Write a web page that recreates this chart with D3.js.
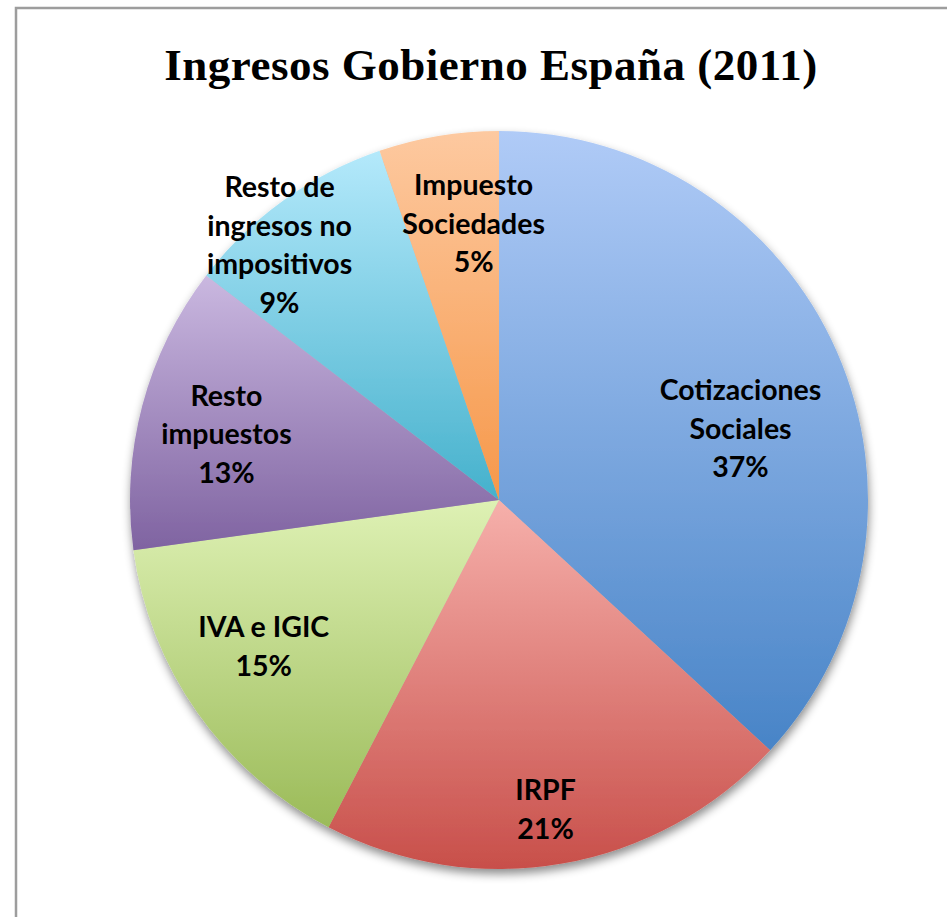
<!DOCTYPE html>
<html>
<head>
<meta charset="utf-8">
<script src="https://cdn.jsdelivr.net/npm/d3@7"></script>
<style>
  body { margin: 0; background: #fff; }
  svg { display: block; }
</style>
</head>
<body>
<div class="piechart"></div>
<script>
// DATA
const names = ["Cotizaciones Sociales", "IRPF", "IVA e IGIC", "Resto impuestos",
               "Resto de ingresos no impositivos", "Impuesto Sociedades"];
const labelLines = [["Cotizaciones", "Sociales"], ["IRPF"], ["IVA e IGIC"], ["Resto", "impuestos"],
                    ["Resto de", "ingresos no", "impositivos"], ["Impuesto", "Sociedades"]];
const shares = [36.9, 20.8, 15.2, 12.6, 9.35, 5.25];
const title = "Ingresos Gobierno España (2011)";

// colors (gradient top -> bottom)
const colTop = ["#b0cbf7", "#f6b0ab", "#def1b4", "#cab8e0", "#b4e9fb", "#fdc9a0"];
const colBot = ["#4884c7", "#c84f4a", "#9bbb59", "#7f63a1", "#45b1cc", "#f6984a"];

// label nudges from the default centroid spot (layout only)
const nudge = [[-12, 40], [-1, 37], [-9, -13], [-5, 5], [-58, -30], [20, -3]];

let width = 947, height = 917;
let cx = 499, cy = 500, radius = 369;

let svg = d3.select(".piechart")
    .append("svg")
    .attr("width", width)
    .attr("height", height);

let defs = svg.append("defs");

let shadow = defs.append("filter")
    .attr("id", "shadow")
    .attr("x", "-10%").attr("y", "-10%")
    .attr("width", "120%").attr("height", "125%");
shadow.append("feDropShadow")
    .attr("dx", 1).attr("dy", 5)
    .attr("stdDeviation", 5)
    .attr("flood-color", "#000")
    .attr("flood-opacity", 0.45);

names.forEach((n, i) => {
    let g = defs.append("linearGradient")
        .attr("id", "grad" + i)
        .attr("x1", 0).attr("y1", 0)
        .attr("x2", 0).attr("y2", 1);
    g.append("stop").attr("offset", "0%").attr("stop-color", colTop[i]);
    g.append("stop").attr("offset", "100%").attr("stop-color", colBot[i]);
});

// frame
svg.append("rect")
    .attr("x", 16).attr("y", 8)
    .attr("width", 1000).attr("height", 1000)
    .attr("fill", "none")
    .attr("stroke", "#9d9d9d")
    .attr("stroke-width", 2.5);

// title
svg.append("text")
    .attr("x", 491).attr("y", 80)
    .attr("text-anchor", "middle")
    .attr("font-family", "'Liberation Serif', serif")
    .attr("font-weight", "bold")
    .attr("font-size", 45)
    .attr("letter-spacing", 0.5)
    .text(title);

let data = names.map((n, i) => ({ name: n, value: shares[i], lines: labelLines[i], i: i }));

let pie = d3.pie()
    .value(d => d.value)
    .sort(null);

let arc = d3.arc()
    .innerRadius(0)
    .outerRadius(radius);

let labelArc = d3.arc()
    .innerRadius(radius * 0.75)
    .outerRadius(radius * 0.75);

let arcs = pie(data);

let group = svg.append("g")
    .attr("transform", `translate(${cx},${cy})`);

group.append("g")
    .attr("filter", "url(#shadow)")
    .selectAll("path")
    .data(arcs)
    .enter()
    .append("path")
    .attr("d", arc)
    .attr("fill", d => `url(#grad${d.data.i})`);

let total = d3.sum(shares);
let lineH = 38.5;

let labels = group.selectAll(".lbl")
    .data(arcs)
    .enter()
    .append("text")
    .attr("class", "lbl")
    .attr("text-anchor", "middle")
    .attr("font-family", "Lato, 'Open Sans', sans-serif")
    .attr("font-weight", "bold")
    .attr("font-size", 28.5)
    .attr("fill", "#000")
    .attr("transform", d => {
        let c = labelArc.centroid(d);
        let nd = nudge[d.data.i];
        let n = d.data.lines.length + 1;
        let y0 = c[1] + nd[1] - (n - 1) * lineH / 2 + 10;
        return `translate(${c[0] + nd[0]},${y0})`;
    });

labels.each(function(d) {
    let t = d3.select(this);
    let lines = d.data.lines.concat([Math.round(d.data.value / total * 100) + "%"]);
    lines.forEach((l, k) => {
        t.append("tspan").attr("x", 0).attr("dy", k === 0 ? 0 : lineH).text(l);
    });
});
</script>
</body>
</html>
